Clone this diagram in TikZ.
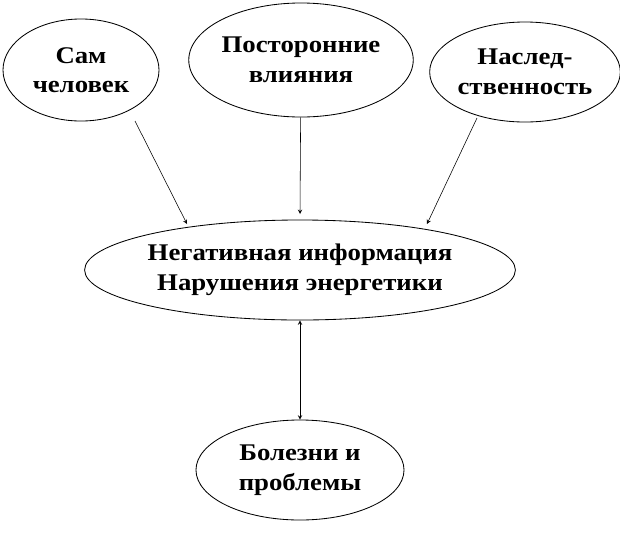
\documentclass[tikz,border=0pt]{standalone}
\usepackage{fontspec}
\setmainfont[FakeStretch=1.12]{Liberation Serif}
\usetikzlibrary{shapes.geometric}
\newcommand{\px}{0.7113pt}
\tikzset{oval/.style={draw,ellipse,semithick,font=\bfseries\fontsize{17}{21}\selectfont,align=center,inner sep=0pt}}
\begin{document}
\begin{tikzpicture}[x=0.025cm,y=-0.025cm,>=stealth]
	\useasboundingbox (0,0) rectangle (620,535);
	\node[oval,minimum width=156*\px,minimum height=102*\px] (self) at (81,70) {Сам\\человек};
	\node[oval,minimum width=216*\px,minimum height=114*\px] (outer) at (301,60) {Посторонние\\влияния};
	\node[oval,minimum width=184*\px,minimum height=100*\px] (heir) at (525,72) {Наслед-\\ственность};
	\node[oval,minimum width=398*\px,minimum height=100*\px] (neg) at (300,270) {Негативная информация\\Нарушения энергетики};
	\node[oval,minimum width=208*\px,minimum height=100*\px] (ill) at (300,470) {Болезни и\\проблемы};
	\draw[->] (135,121) -- (187,224);
	\draw[->] (outer) -- (300,214);
	\draw[->] (477,118) -- (427,224);
	\draw[<->] (neg) -- (ill);
\end{tikzpicture}
\end{document}
